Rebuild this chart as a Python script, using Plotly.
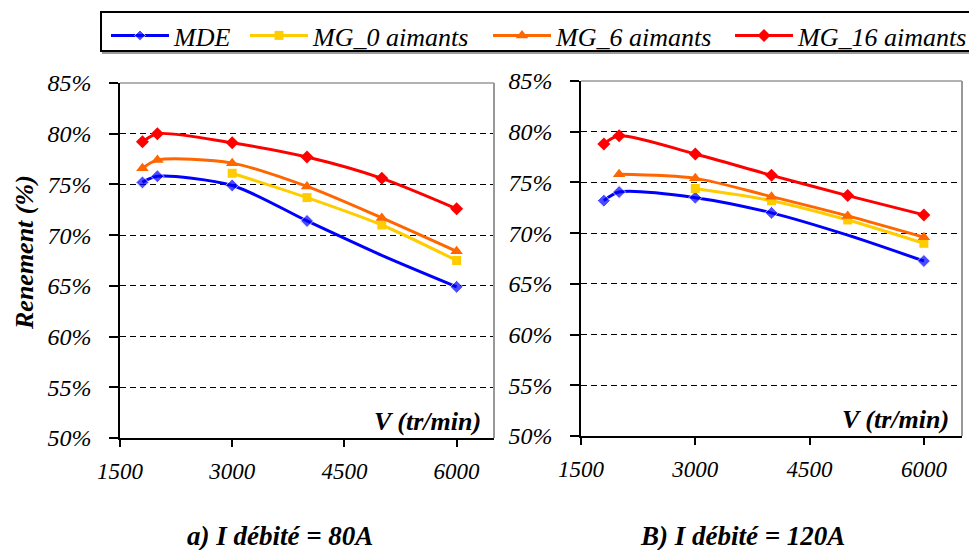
import plotly.graph_objects as go

# ---------------- data ----------------
speeds = [1800, 2000, 3000, 4000, 5000, 6000]
series_names = ["MDE", "MG_0 aimants", "MG_6 aimants", "MG_16 aimants"]

a80_mde = [75.2, 75.8, 74.9, 71.4, 68.0, 64.9]
a80_mg0 = [None, None, 76.1, 73.7, 71.0, 67.5]
a80_mg6 = [76.6, 77.4, 77.1, 74.8, 71.7, 68.4]
a80_mg16 = [79.2, 80.0, 79.1, 77.7, 75.6, 72.6]

b120_mde = [73.2, 74.05, 73.5, 72.0, 69.8, 67.25]
b120_mg0 = [None, None, 74.4, 73.2, 71.3, 69.0]
b120_mg6 = [None, 75.8, 75.4, 73.6, 71.7, 69.6]
b120_mg16 = [78.8, 79.6, 77.8, 75.7, 73.7, 71.8]

x_tickvals = [1500, 3000, 4500, 6000]
x_ticktext = ["1500", "3000", "4500", "6000"]
y_tickvals = [50, 55, 60, 65, 70, 75, 80, 85]
y_ticktext = ["50%", "55%", "60%", "65%", "70%", "75%", "80%", "85%"]

panel_titles = ["a) I débité = 80A", "B) I débité = 120A"]
y_title = "Renement (%)"
x_title = "V (tr/min)"

# ---------------- styles ----------------
FONT = "Liberation Serif, Times New Roman, serif"
colors = ["#0000FF", "#FFCC00", "#FF6600", "#FF0000"]
symbols = ["diamond", "square", "triangle-up", "diamond"]
msizes = [[10, 10, 10, 10, 0, 10], 9, 11, 10]
legend_ids = ["legend", "legend2", "legend3", "legend4"]
legend_px = [106, 245, 488, 730]   # left edge of each legend entry (px)

fig = go.Figure()

panels = [
    ([a80_mde, a80_mg0, a80_mg6, a80_mg16], "x", "y", True),
    ([b120_mde, b120_mg0, b120_mg6, b120_mg16], "x2", "y2", False),
]
for data, xa, ya, showleg in panels:
    for i, vals in enumerate(data):
        fig.add_trace(go.Scatter(
            x=speeds, y=vals, name=series_names[i], xaxis=xa, yaxis=ya,
            mode="lines+markers",
            line=dict(color=colors[i], width=3, shape="spline", smoothing=0.8),
            marker=dict(symbol=symbols[i], size=msizes[i], color=colors[i]),
            showlegend=showleg, legend=legend_ids[i],
        ))

xaxis_common = dict(
    showline=True, linecolor="black", linewidth=1.5,
    ticks="outside", ticklen=7, tickcolor="black", tickwidth=1.5,
    zeroline=False, automargin=False, showgrid=False,
    range=[1500, 6500], tickvals=x_tickvals, ticktext=x_ticktext,
    tickfont=dict(family=FONT, size=23, style="italic", color="black"),
    ticklabelstandoff=5,
)
yaxis_common = dict(
    showline=True, linecolor="black", linewidth=1.5,
    ticks="outside", ticklen=9, tickcolor="black", tickwidth=1.5,
    zeroline=False, automargin=False, showgrid=True,
    gridcolor="black", gridwidth=1, griddash="6px,4px",
    range=[50, 85], tickvals=y_tickvals, ticktext=y_ticktext,
    tickfont=dict(family=FONT, size=24, style="italic", color="black"),
    ticklabelstandoff=13,
)

legend_font = dict(family=FONT, size=26, style="italic", color="black")
legends = {}
for lid, px in zip(legend_ids, legend_px):
    legends[lid] = dict(orientation="h", x=px / 969, y=1 - 12 / 550,
                        xanchor="left", yanchor="top", borderwidth=0,
                        bgcolor="rgba(0,0,0,0)", font=legend_font,
                        itemwidth=58)

fig.update_layout(
    width=969, height=550,
    margin=dict(l=0, r=0, t=0, b=0, autoexpand=False),
    paper_bgcolor="white", plot_bgcolor="white",
    font=dict(family=FONT, color="black"),
    xaxis=dict(domain=[120 / 969, 494 / 969], anchor="y", **xaxis_common),
    yaxis=dict(domain=[1 - 438 / 550, 1 - 83 / 550], anchor="x", **yaxis_common),
    xaxis2=dict(domain=[581 / 969, 962 / 969], anchor="y2", **xaxis_common),
    yaxis2=dict(domain=[1 - 436 / 550, 1 - 81 / 550], anchor="x2", **yaxis_common),
    **legends,
)

# legend box (with light shadow)
fig.add_shape(type="rect", xref="paper", yref="paper",
              x0=103 / 969, x1=1.02, y0=1 - 53 / 550, y1=1 - 14 / 550,
              line=dict(color="#9a9a9a", width=2), layer="below")
fig.add_shape(type="rect", xref="paper", yref="paper",
              x0=101 / 969, x1=1.02, y0=1 - 51 / 550, y1=1 - 12 / 550,
              line=dict(color="black", width=2), fillcolor="white",
              layer="below")

# gray top / right frame of each plot area
for xd, yd in [("x domain", "y domain"), ("x2 domain", "y2 domain")]:
    fig.add_shape(type="line", xref=xd, yref=yd, x0=0, x1=1, y0=1, y1=1,
                  line=dict(color="#999999", width=1.5), layer="above")
    fig.add_shape(type="line", xref=xd, yref=yd, x0=1, x1=1, y0=0, y1=1,
                  line=dict(color="#999999", width=2), layer="above")

bold_it = dict(family=FONT, size=26, style="italic", weight="bold", color="black")
for xd, yd in [("x domain", "y domain"), ("x2 domain", "y2 domain")]:
    fig.add_annotation(text=x_title, xref=xd, yref=yd, x=0.97, y=0.0,
                       xanchor="right", yanchor="bottom", showarrow=False,
                       font=bold_it)

fig.add_annotation(text=y_title, xref="paper", yref="paper", x=25 / 969,
                   y=1 - 253 / 550, xanchor="center", yanchor="middle",
                   textangle=-90, showarrow=False,
                   font=dict(family=FONT, size=26, style="italic",
                             weight="bold", color="black"))

for cx, txt in zip([280 / 969, 742 / 969], panel_titles):
    fig.add_annotation(text=txt, xref="paper", yref="paper", x=cx,
                       y=1 - 536 / 550, xanchor="center", yanchor="middle",
                       showarrow=False,
                       font=dict(family=FONT, size=27, style="italic",
                                 weight="bold", color="black"))

fig.write_html("out.html", config={"displayModeBar": False},
               post_script="document.body.style.margin='0';")
